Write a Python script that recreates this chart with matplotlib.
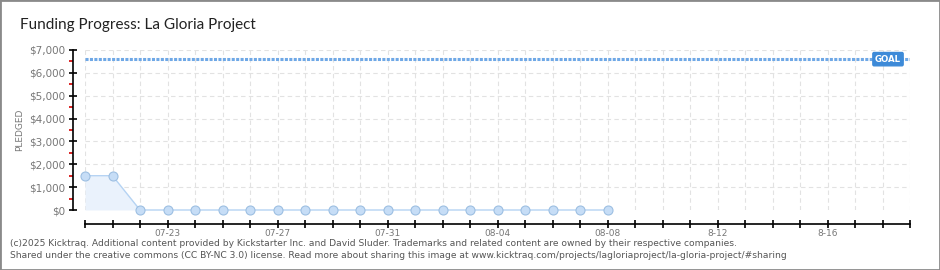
import matplotlib
matplotlib.use("Agg")
import matplotlib.pyplot as plt
import matplotlib.patches as patches
from matplotlib.ticker import MultipleLocator, FuncFormatter
import numpy as np

# Data
dates = ["07-20", "07-21", "07-22", "07-23", "07-24", "07-25", "07-26", "07-27",
         "07-28", "07-29", "07-30", "07-31", "08-01", "08-02", "08-03", "08-04",
         "08-05", "08-06", "08-07", "08-08"]
pledged = [1500, 1500, 0, 0, 0, 0, 0, 0, 0, 0, 0, 0, 0, 0, 0, 0, 0, 0, 0, 0]
goal = 6600
n_days = 30  # axis runs 07-20 .. 08-19
label_days = [3, 7, 11, 15, 19, 23, 27]
label_text = ["07-23", "07-27", "07-31", "08-04", "08-08", "8-12", "8-16"]

W, H = 940, 270
fig = plt.figure(figsize=(W / 100, H / 100), dpi=100)
fig.patch.set_facecolor("white")

# plot area in pixels
x0, x1, ytop, ybot = 85, 910, 50, 210
ax = fig.add_axes([x0 / W, (H - ybot) / H, (x1 - x0) / W, (ybot - ytop) / H])

days = np.arange(len(pledged))

# grid
for d in range(n_days + 1):
    ax.axvline(d, color="#e2e2e2", lw=0.8, ls=(0, (4, 3)), zorder=0)
for v in range(1000, 8000, 1000):
    ax.axhline(v, color="#e2e2e2", lw=0.8, ls=(0, (4, 3)), zorder=0)

# series
ax.fill_between(days, pledged, 0, color="#eaf2fc", zorder=1, lw=0)
ax.plot(days, pledged, color="#b5d3f3", lw=1.0, zorder=2,
        marker="o", ms=6.5, mfc="#c6ddf6", mec="#9dbfe2", mew=0.8,
        clip_on=False)

# goal line
ax.axhline(goal, color="#6fa8e6", lw=2.2, ls=(0, (1, 0.45)), zorder=3)
ax.text(29.2, goal, "GOAL", color="white", fontsize=6.2, fontweight="bold",
        ha="center", va="center", zorder=4,
        bbox=dict(boxstyle="round,pad=0.25,rounding_size=0.15",
                  fc="#3d8ad8", ec="#3d8ad8"))

ax.set_xlim(0, n_days)
ax.set_ylim(0, 7000)

# spines
for s in ["top", "right"]:
    ax.spines[s].set_visible(False)
ax.spines["left"].set_position(("outward", 9))
ax.spines["bottom"].set_position(("outward", 10))
ax.spines["left"].set_linewidth(1.2)
ax.spines["bottom"].set_linewidth(1.2)

# ticks
ax.set_xticks(range(n_days + 1))
ax.set_xticklabels([label_text[label_days.index(d)] if d in label_days else ""
                    for d in range(n_days + 1)])
ax.tick_params(axis="x", direction="inout", length=6, width=1.2,
               labelsize=6.5, labelcolor="#777777", pad=0.5)

ax.yaxis.set_major_locator(MultipleLocator(1000))
ax.yaxis.set_minor_locator(MultipleLocator(500))
ax.yaxis.set_major_formatter(FuncFormatter(lambda v, p: f"${int(v):,}"))
ax.tick_params(axis="y", which="major", direction="inout", length=6, width=1.2,
               labelsize=7.5, labelcolor="#777777", pad=2)
ax.tick_params(axis="y", which="minor", direction="out", length=3, width=1.2,
               color="#d40000")

fig.text(20 / W, 1 - 130 / H, "PLEDGED", fontsize=6.5, color="#777777",
         rotation=90, ha="center", va="center")

# title
fig.text(20 / W, 1 - 25 / H, "Funding Progress: La Gloria Project",
         fontsize=11, family="Lato", color="#222222",
         va="center", ha="left")

# footer
fig.text(10 / W, 1 - 243 / H,
         "(c)2025 Kicktraq. Additional content provided by Kickstarter Inc. and David Sluder. "
         "Trademarks and related content are owned by their respective companies.",
         fontsize=6.6, color="#555555", va="center", ha="left")
fig.text(10 / W, 1 - 256 / H,
         "Shared under the creative commons (CC BY-NC 3.0) license. Read more about sharing this "
         "image at www.kicktraq.com/projects/lagloriaproject/la-gloria-project/#sharing",
         fontsize=6.6, color="#555555", va="center", ha="left")

# border
fig.patches.append(patches.Rectangle((0, 0), 1, 1, transform=fig.transFigure,
                                     fill=False, ec="#8a8a8a", lw=2.0))

fig.savefig("out.png", dpi=100)
